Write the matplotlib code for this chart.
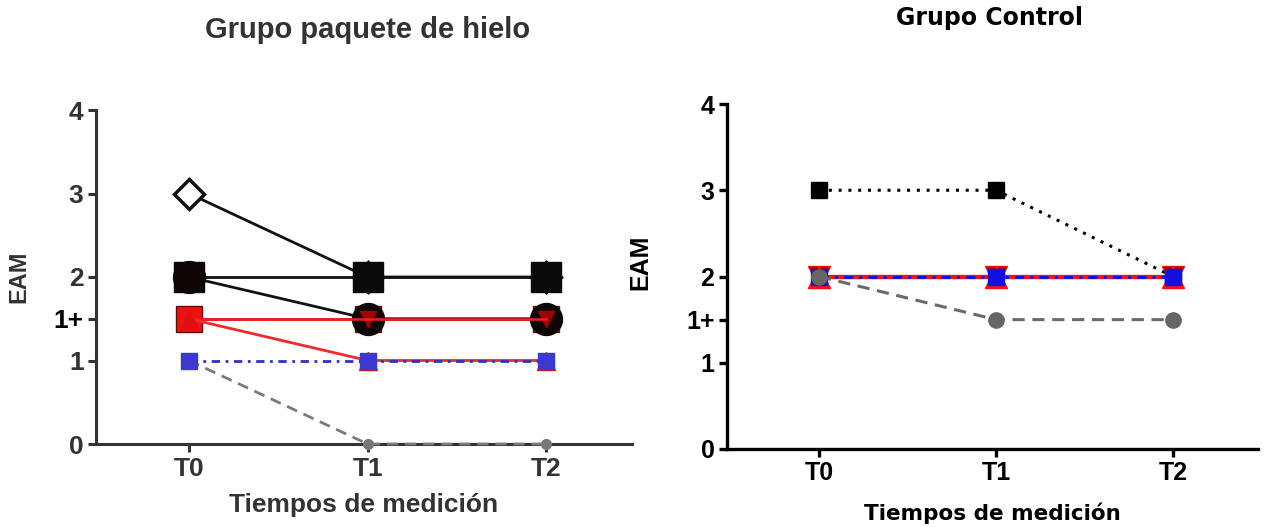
import matplotlib
matplotlib.use("Agg")
import matplotlib.pyplot as plt

# tiempos de medición
tiempos = ["T0", "T1", "T2"]
x = [0, 1, 2]

# eje EAM: la marca 1.5 se rotula "1+"
ytick_vals = [0, 1, 1.5, 2, 3, 4]
ytick_txt = ["0", "1", "1+", "2", "3", "4"]

# Grupo paquete de hielo
hielo_a = [3, 2, 2]
hielo_b = [2, 2, 2]
hielo_c = [2, 1.5, 1.5]
hielo_d = [1.5, 1.5, 1.5]
hielo_e = [1.5, 1.5, 1.5]
hielo_f = [1.5, 1, 1]
hielo_g = [1, 1, 1]
hielo_h = [1, 0, 0]

# Grupo Control
control_a = [3, 3, 2]
control_b = [2, 2, 2]
control_c = [2, 2, 2]
control_d = [2, 2, 2]
control_e = [2, 1.5, 1.5]

W, H = 1266, 527
fig = plt.figure(figsize=(W / 100, H / 100), dpi=100)
fig.patch.set_facecolor("white")


def px_axes(x0, x1, ytop, ybot):
    return fig.add_axes([x0 / W, 1 - ybot / H, (x1 - x0) / W, (ybot - ytop) / H])


def estilo_ejes(ax, col, lw, fam, fs):
    ax.set_xlim(-0.52, 2.48)
    ax.set_ylim(0, 4)
    for s in ["top", "right"]:
        ax.spines[s].set_visible(False)
    for s in ["left", "bottom"]:
        ax.spines[s].set_color(col)
        ax.spines[s].set_linewidth(lw)
    ax.set_xticks(x)
    ax.set_xticklabels(tiempos)
    ax.set_yticks(ytick_vals)
    ax.set_yticklabels(ytick_txt)
    ax.tick_params(colors=col, width=lw, length=6, pad=3)
    for t in ax.get_xticklabels() + ax.get_yticklabels():
        t.set_fontfamily(fam)
        t.set_fontweight("bold")
        t.set_fontsize(fs)
        t.set_color(col)
    lbl = ax.get_yticklabels()[ytick_txt.index("1+")]
    lbl.set_color("black")
    lbl.set_fontfamily("Liberation Sans")


# ---- Grupo paquete de hielo ----
ax1 = px_axes(96, 632, 110, 444)
gris = "#333333"
estilo_ejes(ax1, gris, 2.2, "Liberation Sans", 19)

ax1.plot(x, hielo_h, ls=(0, (4, 2.5)), color="#7a7a7a", lw=2, marker="o",
         ms=7, mfc="#777777", mec="#777777", clip_on=False, zorder=3)
ax1.plot(x, hielo_a, "-", color="#111111", lw=2, marker="D", ms=15,
         mfc="white", mec="#111111", mew=2.5, zorder=4)
ax1.plot(x, hielo_b, "-", color="#111111", lw=2, marker="s", ms=22,
         mfc="#0a0a0a", mec="#0a0a0a", zorder=5)
ax1.plot(x, hielo_d, "-", color="#e01818", lw=2, marker="s", ms=19,
         mfc="#ee1111", mec="#551010", zorder=5)
ax1.plot(x, hielo_c, "-", color="#111111", lw=2, marker="o", ms=23,
         mfc="#100505", mec="#0a0a0a", zorder=6)
ax1.plot(x[1:], hielo_e[1:], "v", color="#a00000", ms=12, zorder=7)
ax1.plot(x, hielo_e, "-", color="#e82020", lw=1.8, zorder=7)
ax1.plot(x, hielo_f, "-", color="#ee2a2a", lw=2, marker="^", ms=13,
         mfc="#e01010", mec="#e01010", zorder=7)
ax1.plot(x, hielo_g, ls=(0, (3, 2, 1, 2)), color="#3030c8", lw=2,
         marker="s", ms=11, mfc="#3a3ad0", mec="#3a3ad0", zorder=8)

ax1.set_ylabel("EAM", fontfamily="Liberation Sans", fontweight="bold",
               fontsize=17, color=gris)
ax1.yaxis.set_label_coords((30 - 96) / 536, 0.5)
ax1.set_xlabel("Tiempos de medición", fontfamily="Liberation Sans",
               fontweight="bold", fontsize=19, color=gris)
ax1.xaxis.set_label_coords(0.5, (444 - 505) / 334)
ax1.xaxis.label.set_va("center")
fig.text(368 / W, 1 - 30 / H, "Grupo paquete de hielo", ha="center",
         va="center", fontfamily="Liberation Sans", fontweight="bold",
         fontsize=21, color=gris)

# ---- Grupo Control ----
ax2 = px_axes(727, 1258, 104, 449)
estilo_ejes(ax2, "black", 2.4, "Liberation Sans", 18)

ax2.plot(x, control_a, ls=(0, (1, 2.2)), color="black", lw=2.2, marker="s",
         ms=11, mfc="black", mec="black", zorder=3)
ax2.plot(x, control_b, "-", color="#e81010", lw=3, marker="v", ms=16,
         mfc="#a00000", mec="#e81010", zorder=4)
ax2.plot(x, control_c, "-", color="#ff1010", lw=3, marker="^", ms=16,
         mfc="#ff1010", mec="#ff1010", zorder=5)
ax2.plot(x, control_d, ls=(0, (3, 2, 1, 2)), color="#1010e0", lw=2.2,
         marker="s", ms=11, mfc="#1010e0", mec="#1010e0", zorder=6)
ax2.plot(x, control_e, ls=(0, (4, 2.5)), color="#6a6a6a", lw=2.2, marker="o",
         ms=11, mfc="#666666", mec="#666666", zorder=7)

ax2.set_ylabel("EAM", fontfamily="Liberation Sans", fontweight="bold",
               fontsize=18, color="black")
ax2.yaxis.set_label_coords((652 - 727) / 531, (449 - 262) / 345)
ax2.set_xlabel("Tiempos de medición", fontfamily="DejaVu Sans",
               fontweight="bold", fontsize=15.5, color="black")
ax2.xaxis.set_label_coords(0.5, (449 - 513) / 345)
ax2.xaxis.label.set_va("center")
fig.text(990 / W, 1 - 18 / H, "Grupo Control", ha="center", va="center",
         fontfamily="DejaVu Sans", fontweight="bold", fontsize=17,
         color="black")

fig.savefig("out.png", dpi=100, facecolor="white")
